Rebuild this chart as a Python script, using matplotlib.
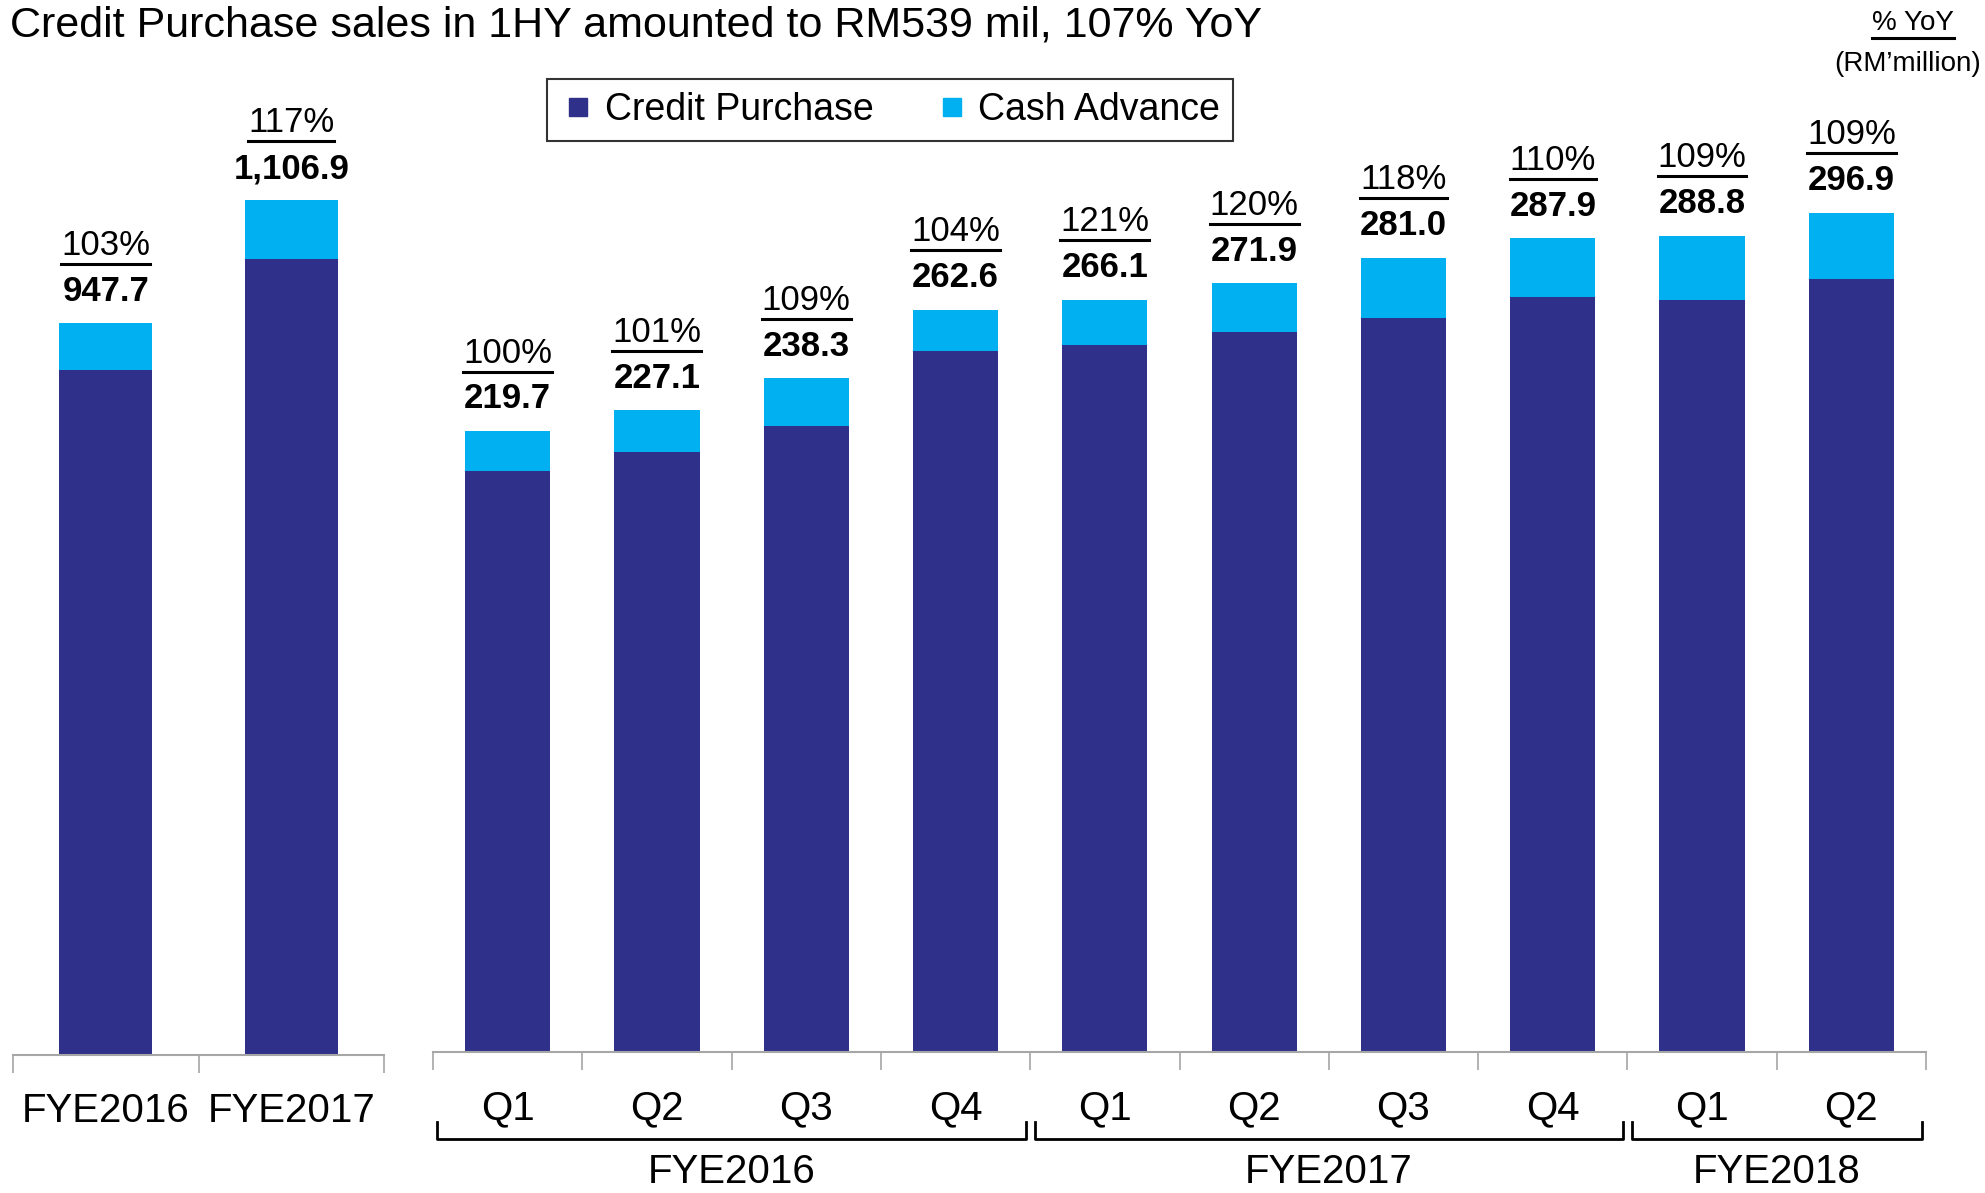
"""
Credit Purchase / Cash Advance sales: annual and quarterly stacked bars.
"""
import matplotlib
matplotlib.use("Agg")
import matplotlib.pyplot as plt
import numpy as np
from matplotlib import font_manager
from matplotlib.lines import Line2D
from matplotlib.transforms import IdentityTransform, blended_transform_factory

# --- data -------------------------------------------------------------
annual_labels = ["FYE2016", "FYE2017"]
annual_total = [947.7, 1106.9]
annual_cash = [60.5, 75.2]
annual_yoy = ["103%", "117%"]

quarter_labels = ["Q1", "Q2", "Q3", "Q4", "Q1", "Q2", "Q3", "Q4", "Q1", "Q2"]
quarter_total = [219.7, 227.1, 238.3, 262.6, 266.1, 271.9, 281.0, 287.9, 288.8, 296.9]
quarter_cash = [14.3, 14.9, 16.7, 14.5, 15.9, 17.1, 21.2, 20.8, 22.8, 23.6]
quarter_yoy = ["100%", "101%", "109%", "104%", "121%", "120%", "118%", "110%", "109%", "109%"]

year_names = ["FYE2016", "FYE2017", "FYE2018"]
year_first = [0, 4, 8]
year_last = [3, 7, 9]

NAVY = "#2E3089"
CYAN = "#00B0F0"
GREY = "#A6A6A6"

names = {f.name for f in font_manager.fontManager.ttflist}
FONT = "Liberation Sans Narrow" if "Liberation Sans Narrow" in names else "Liberation Sans"
plt.rcParams["font.family"] = [FONT, "DejaVu Sans"]

W, H = 1985, 1193
fig = plt.figure(figsize=(W / 100, H / 100), dpi=100)


def px_axes(left, right, top, bottom):
    """Axes placed by pixel edges (measured from the top-left corner)."""
    return fig.add_axes([left / W, 1 - bottom / H, (right - left) / W, (bottom - top) / H])


ax_y = px_axes(13, 384, 120, 1055)
ax_q = px_axes(433, 1926, 120, 1052)


def draw_bars(ax, total, cash, yoy, labels, width, ymax, label_pad):
    total = np.asarray(total)
    cash = np.asarray(cash)
    credit = total - cash
    x = np.arange(len(total))
    ax.bar(x, credit, width, color=NAVY, edgecolor="none", zorder=2)
    ax.bar(x, cash, width, bottom=credit, color=CYAN, edgecolor="none", zorder=2)
    ax.set_xlim(-0.5, len(total) - 0.5)
    ax.set_ylim(0, ymax)
    for s in ("top", "left", "right"):
        ax.spines[s].set_visible(False)
    ax.spines["bottom"].set_color(GREY)
    ax.spines["bottom"].set_linewidth(1.5)
    ax.set_yticks([])
    ax.set_xticks(np.arange(len(total) + 1) - 0.5)
    ax.set_xticklabels([])
    ax.tick_params(axis="x", which="major", direction="out", length=13,
                   width=1.2, color=GREY)
    ax.set_xticks(x, minor=True)
    ax.set_xticklabels(labels, minor=True, fontsize=29)
    ax.tick_params(axis="x", which="minor", length=0, pad=label_pad)

    pct_texts = []
    for xi, t, p in zip(x, total, yoy):
        v = f"{t:,.1f}"
        ax.annotate(v, (xi, t), xytext=(0, 23), textcoords="offset points",
                    ha="center", va="center", fontsize=25, fontweight="bold")
        pt = ax.annotate(p, (xi, t), xytext=(0, 56), textcoords="offset points",
                         ha="center", va="center", fontsize=25)
        pct_texts.append(pt)
    return pct_texts


pct = draw_bars(ax_y, annual_total, annual_cash, annual_yoy, annual_labels,
                0.5, 935 / 0.772, 27)
pct += draw_bars(ax_q, quarter_total, quarter_cash, quarter_yoy, quarter_labels,
                 0.57, 932 / 2.827, 27)

# year brackets under the quarter labels
tr = blended_transform_factory(ax_q.transData, ax_q.transAxes)
ax_h = 932.0
for name, a, b in zip(year_names, year_first, year_last):
    x0, x1 = a - 0.47, b + 0.47
    y_lo, y_hi = -87 / ax_h, -70 / ax_h
    ax_q.plot([x0, x0, x1, x1], [y_hi, y_lo, y_lo, y_hi], color="black", lw=2,
              transform=tr, clip_on=False)
    ax_q.text((a + b) / 2, -120 / ax_h, name, transform=tr, ha="center",
              va="center", fontsize=29)

# title and unit note
fig.text(10 / W, 1 - 26 / H, "Credit Purchase sales in 1HY amounted to RM539 mil, 107% YoY",
         ha="left", va="center", fontsize=31)
yoy_note = fig.text(1913 / W, 1 - 23 / H, "% YoY", ha="center", va="center", fontsize=20)
fig.text(1981 / W, 1 - 64 / H, "(RM\u2019million)", ha="right", va="center", fontsize=20)
pct.append(yoy_note)

handles = [Line2D([], [], ls="none", marker="s", markersize=13, color=NAVY),
           Line2D([], [], ls="none", marker="s", markersize=13, color=CYAN)]
leg = fig.legend(handles, ["Credit Purchase", "Cash Advance"], ncol=2, loc="center",
                 bbox_to_anchor=(890 / W, 1 - 110 / H), fontsize=27, frameon=True,
                 fancybox=False, edgecolor="black", handletextpad=0.2,
                 columnspacing=1.6, borderpad=0.35, handlelength=1.0)
leg.get_frame().set_linewidth(1.5)

# underline the YoY percentages
fig.canvas.draw()
renderer = fig.canvas.get_renderer()
for t in pct:
    bb = t.get_window_extent(renderer)
    fig.add_artist(Line2D([bb.x0, bb.x1], [bb.y0 - 2, bb.y0 - 2], color="black",
                          lw=2.2, transform=IdentityTransform()))

fig.savefig("out.png", dpi=100)
